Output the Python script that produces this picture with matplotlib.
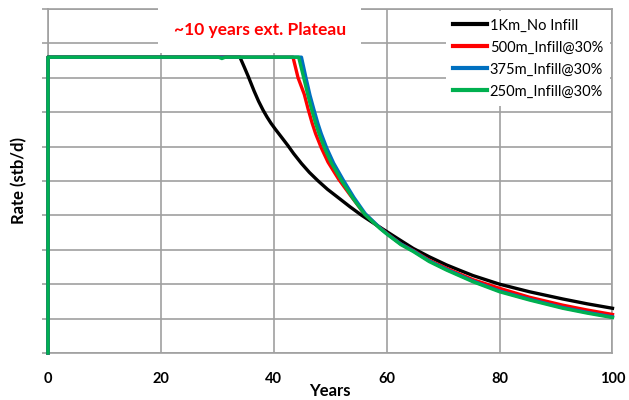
import matplotlib
matplotlib.use('Agg')
import matplotlib.pyplot as plt

plt.rcParams['font.family'] = ['Lato', 'DejaVu Sans']

# Data (rate in grid units, no scale shown)
yrs_1km = [0, 0, 34.0, 34.8, 35.5, 36.5, 37.3, 38.1, 38.8, 39.5, 40.3, 41.1, 41.8,
           42.5, 43.5, 44.9, 46.3, 47.8, 49.5, 51.7, 53.5, 55.5, 58, 60, 62, 64.7,
           67.5, 70.6, 73, 75.3, 80, 85.3, 91.2, 95.5, 100]
rate_1km = [0, 8.6, 8.6, 8.3, 8.03, 7.62, 7.32, 7.06, 6.86, 6.68, 6.5, 6.33, 6.18,
            6.03, 5.8, 5.51, 5.25, 5.01, 4.76, 4.48, 4.25, 4.01, 3.74, 3.53, 3.32,
            3.04, 2.8, 2.56, 2.4, 2.25, 2.0, 1.78, 1.57, 1.43, 1.30]

yrs_500 = [0, 0, 43.4, 44.3, 45.4, 46.1, 46.8, 47.4, 48.4, 49.6, 51.5, 53.5, 55.8,
           58, 60, 62.5, 64.7, 67.5, 70.6, 75.3, 80, 85.3, 91.2, 95.5, 100]
rate_500 = [0, 8.6, 8.6, 8.0, 7.52, 7.08, 6.68, 6.38, 5.97, 5.55, 5.05, 4.6, 4.1,
            3.75, 3.48, 3.17, 2.98, 2.7, 2.46, 2.13, 1.88, 1.62, 1.39, 1.25, 1.12]

yrs_375 = [0, 0, 44.9, 45.7, 46.4, 47.1, 47.8, 48.4, 49.4, 50.6, 52.3, 54.2, 56.2,
           58.8, 60, 62.5, 64.7, 67.5, 70.6, 75.3, 80, 85.3, 91.2, 95.5, 100]
rate_375 = [0, 8.6, 8.6, 8.0, 7.5, 7.08, 6.68, 6.38, 5.95, 5.52, 5.03, 4.52, 4.05,
            3.64, 3.47, 3.17, 2.97, 2.68, 2.43, 2.09, 1.8, 1.56, 1.32, 1.18, 1.05]

yrs_250 = [0, 0, 30.2, 30.8, 31.4, 44.4, 45.3, 46.0, 46.7, 47.4, 48.0, 49.0, 50.2,
           52, 54, 56.1, 58.8, 60, 62.5, 64.7, 67.5, 70.6, 75.3, 80, 85.3, 91.2,
           95.5, 100]
rate_250 = [0, 8.6, 8.6, 8.56, 8.6, 8.6, 8.0, 7.52, 7.08, 6.68, 6.38, 5.95, 5.52,
            5.01, 4.5, 4.03, 3.62, 3.46, 3.15, 2.95, 2.66, 2.41, 2.07, 1.78, 1.54,
            1.30, 1.16, 1.03]

x_ticks = [0, 20, 40, 60, 80, 100]
labels = ['1Km_No Infill', '500m_Infill@30%', '375m_Infill@30%', '250m_Infill@30%']
colors = ['#000000', '#ff0000', '#0070c0', '#00b050']

fig = plt.figure(figsize=(6.29, 4.0), dpi=100)
ax = fig.add_axes([48 / 629, 1 - 353 / 400, 564.5 / 629, 344 / 400])

series = [(yrs_1km, rate_1km), (yrs_500, rate_500), (yrs_375, rate_375), (yrs_250, rate_250)]
for (xs, ys), lab, c in zip(series, labels, colors):
    ax.plot(xs, ys, color=c, lw=2.4, label=lab, solid_joinstyle='round',
            zorder=3, clip_on=False)

ax.set_xlim(0, 100)
ax.set_ylim(0, 10)
ax.set_xticks(x_ticks)
ax.set_yticks(range(0, 11))
ax.set_yticklabels([])
ax.grid(color='#a0a0a0', lw=1.2)
ax.set_axisbelow(True)
for s in ax.spines.values():
    s.set_color('#a0a0a0')
    s.set_linewidth(1.2)
    s.set_zorder(1)
ax.tick_params(axis='y', length=4, width=1.2, color='#a0a0a0', direction='out')
ax.tick_params(axis='x', length=0, pad=14, labelsize=10.5)
for t in ax.get_xticklabels():
    t.set_fontweight('bold')

ax.set_xlabel('Years', fontsize=12, fontweight='bold', va='top')
ax.xaxis.set_label_coords(0.5, -0.088)
ax.set_ylabel('Rate (stb/d)', fontsize=12, fontweight='bold')
ax.yaxis.set_label_coords(-0.037, 0.5)

ax.text(37.5, 9.4, '~10 years ext. Plateau', color='#ff0000', fontsize=12.5,
        fontweight='bold', ha='center', va='center', zorder=5,
        bbox=dict(boxstyle='square,pad=0.9', fc='white', ec='none'))

leg = ax.legend(loc='upper right', frameon=True, fontsize=10.5, handlelength=2.3,
                handletextpad=0.2, labelspacing=0.55, borderaxespad=0.15,
                borderpad=0.5, fancybox=False)
leg.set_zorder(6)
leg.get_frame().set_edgecolor('none')
leg.get_frame().set_facecolor('white')
leg.get_frame().set_alpha(1)
for line in leg.get_lines():
    line.set_linewidth(3)

fig.savefig('out.png', dpi=100)
